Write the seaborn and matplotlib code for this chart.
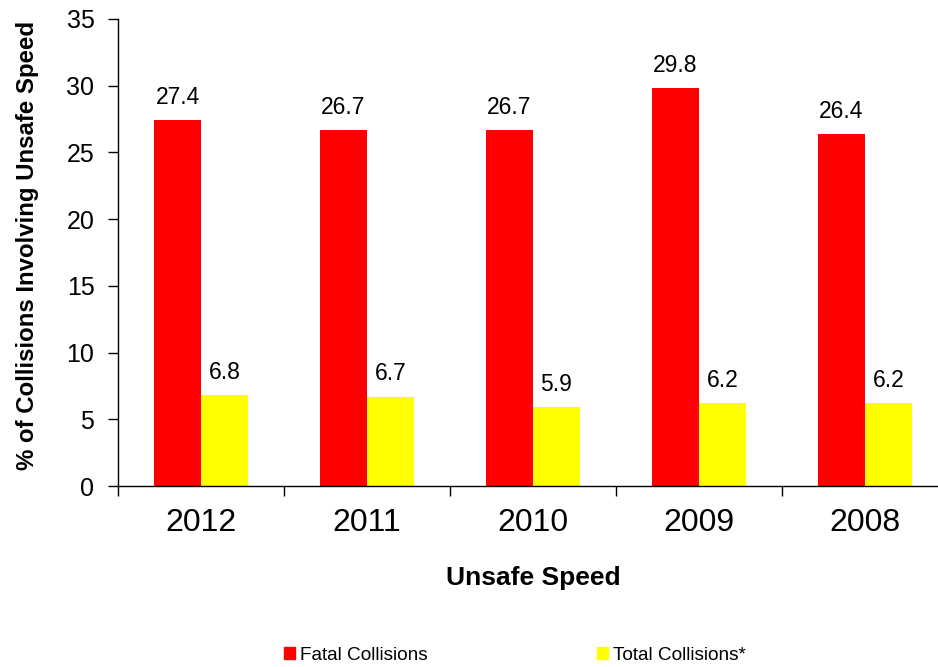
import numpy as np
import pandas as pd
import matplotlib
matplotlib.use("Agg")
import matplotlib.pyplot as plt
import seaborn as sns

years = ["2012", "2011", "2010", "2009", "2008"]
fatal = [27.4, 26.7, 26.7, 29.8, 26.4]
total = [6.8, 6.7, 5.9, 6.2, 6.2]
series = ["Fatal Collisions", "Total Collisions*"]
colors = ["#ff0000", "#ffff00"]

sns.set_style("white")
plt.rcParams['font.family'] = ['Liberation Sans', 'DejaVu Sans']
plt.rcParams['text.color'] = 'black'
plt.rcParams['axes.labelcolor'] = 'black'
plt.rcParams['xtick.color'] = 'black'
plt.rcParams['ytick.color'] = 'black'

df = pd.DataFrame({
    "year": years * 2,
    "value": fatal + total,
    "series": [series[0]] * len(years) + [series[1]] * len(years),
})

fig = plt.figure(figsize=(9.38, 6.67), dpi=100)
ax = fig.add_axes([118 / 938, (667 - 486) / 667, 830 / 938, 467 / 667])

sns.barplot(data=df, x="year", y="value", hue="series", palette=colors,
            width=0.566, saturation=1, ax=ax, legend=False, linewidth=0)

for c in ax.containers:
    ax.bar_label(c, fmt="%.1f", padding=8, fontsize=16.5)

ax.set_ylim(0, 35)
ax.set_yticks(np.arange(0, 36, 5))
ax.set_xlim(-0.5, len(years) - 0.5)
ax.set_xticks(np.arange(-0.5, len(years)), minor=True)
ax.tick_params(axis="x", which="major", bottom=True, length=0, labelsize=23, pad=16)
ax.tick_params(axis="x", which="minor", bottom=True, length=7, width=1, color="black", direction="out")
ax.tick_params(axis="y", left=True, length=7, width=1, color="black", direction="out", labelsize=18, pad=10)

for s in ["top", "right"]:
    ax.spines[s].set_visible(False)
for s in ["left", "bottom"]:
    ax.spines[s].set_color("black")
    ax.spines[s].set_linewidth(1)

ax.set_xlabel("Unsafe Speed", fontsize=19, fontweight="bold", labelpad=20)
ax.set_ylabel("% of Collisions Involving Unsafe Speed", fontsize=17.3, fontweight="bold")
ax.yaxis.set_label_coords(-0.095, 0.516)

handles = [plt.Rectangle((0, 0), 1, 1, color=c) for c in colors]
fig.legend(handles, series, loc="center", bbox_to_anchor=(515 / 938, 1 - 655 / 667),
           ncol=2, frameon=False, fontsize=13.7, handlelength=0.55, handleheight=0.55,
           handletextpad=0.27, columnspacing=8.9)

fig.savefig("out.png", dpi=100)
